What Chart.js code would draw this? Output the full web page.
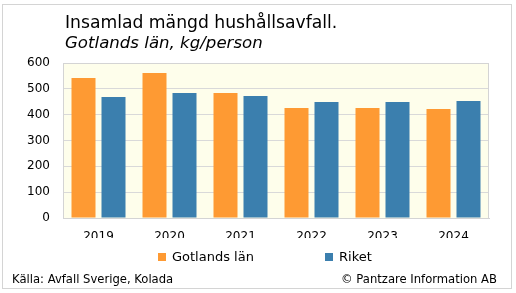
<!DOCTYPE html>
<html><head><meta charset="utf-8">
<script src="https://cdn.jsdelivr.net/npm/chart.js@4.4.1/dist/chart.umd.min.js"></script>
<style>
html,body{margin:0;padding:0;background:#fff;}
#wrap{position:relative;width:516px;height:293px;}
#frame{position:absolute;left:2px;top:4px;width:508px;height:283px;border:1px solid #d4d4d4;}
canvas{position:absolute;left:0;top:0;}
</style></head>
<body>
<div id="wrap"><div id="frame"></div><canvas id="c" width="516" height="293"></canvas></div>
<script>
const categories = ['2019','2020','2021','2022','2023','2024'];
const gotland = [542, 561, 484, 426, 426, 422];
const riket = [468, 484, 472, 449, 449, 453];
const seriesNames = ['Gotlands län', 'Riket'];
const yTicks = [0,100,200,300,400,500,600];
const titleText = 'Insamlad mängd hushållsavfall.';
const subtitleText = 'Gotlands län, kg/person';
const sourceText = 'Källa: Avfall Sverige, Kolada';
const copyrightText = '© Pantzare Information AB';

const FONT = '"DejaVu Sans", Verdana, sans-serif';
const colors = ['#fe9a33', '#3b7fae'];

const deco = {
  id: 'deco',
  beforeDraw(chart) {
    const {ctx, chartArea: a} = chart;
    ctx.save();
    ctx.fillStyle = '#fefeeb';
    ctx.fillRect(a.left, a.top, a.right - a.left, a.bottom - a.top);
    ctx.restore();
  },
  afterDraw(chart) {
    const {ctx, chartArea: a} = chart;
    ctx.save();
    ctx.strokeStyle = '#d4d4d4';
    ctx.lineWidth = 1;
    ctx.strokeRect(Math.round(a.left) + 0.5, Math.round(a.top) + 0.5, Math.round(a.right - a.left) - 1, Math.round(a.bottom - a.top));
    ctx.fillStyle = '#000';
    ctx.textBaseline = 'alphabetic';
    ctx.textAlign = 'left';
    ctx.font = '17.2px ' + FONT;
    ctx.fillText(titleText, 65, 28);
    ctx.font = 'italic 16.6px ' + FONT;
    ctx.fillText(subtitleText, 65, 48);
    // legend
    ctx.font = '13px ' + FONT;
    ctx.textBaseline = 'middle';
    const lx = [158, 325];
    for (let i = 0; i < 2; i++) {
      ctx.fillStyle = colors[i];
      ctx.fillRect(lx[i], 253, 8, 8);
      ctx.fillStyle = '#000';
      ctx.fillText(seriesNames[i], lx[i] + 14, 258);
    }
    ctx.font = '11.6px ' + FONT;
    ctx.fillText(sourceText, 12, 280);
    ctx.textAlign = 'right';
    ctx.fillText(copyrightText, 497, 280);
    ctx.restore();
  }
};

new Chart(document.getElementById('c'), {
  type: 'bar',
  data: {
    labels: categories,
    datasets: [
      {label: seriesNames[0], data: gotland, backgroundColor: colors[0]},
      {label: seriesNames[1], data: riket, backgroundColor: colors[1]}
    ]
  },
  options: {
    responsive: false,
    animation: false,
    devicePixelRatio: 1,
    layout: {padding: {left: 0, right: 27, top: 63, bottom: 55}},
    datasets: {bar: {categoryPercentage: 0.845, barPercentage: 0.8}},
    plugins: {legend: {display: false}, title: {display: false}, tooltip: {enabled: false}},
    scales: {
      x: {
        grid: {display: false, drawTicks: false},
        border: {display: true, color: '#d4d4d4'},
        ticks: {color: '#000', font: {family: FONT, size: 12}, padding: 12},
        afterFit(s) { s.height = 20; }
      },
      y: {
        min: 0, max: 600,
        afterBuildTicks(s) { s.ticks = yTicks.map(v => ({value: v})); },
        grid: {color: '#d9d9d9', drawTicks: false},
        border: {display: false},
        ticks: {color: '#000', font: {family: FONT, size: 12}, padding: 13},
        afterFit(s) { s.width = 63; }
      }
    }
  },
  plugins: [deco]
});
</script>
</body></html>
